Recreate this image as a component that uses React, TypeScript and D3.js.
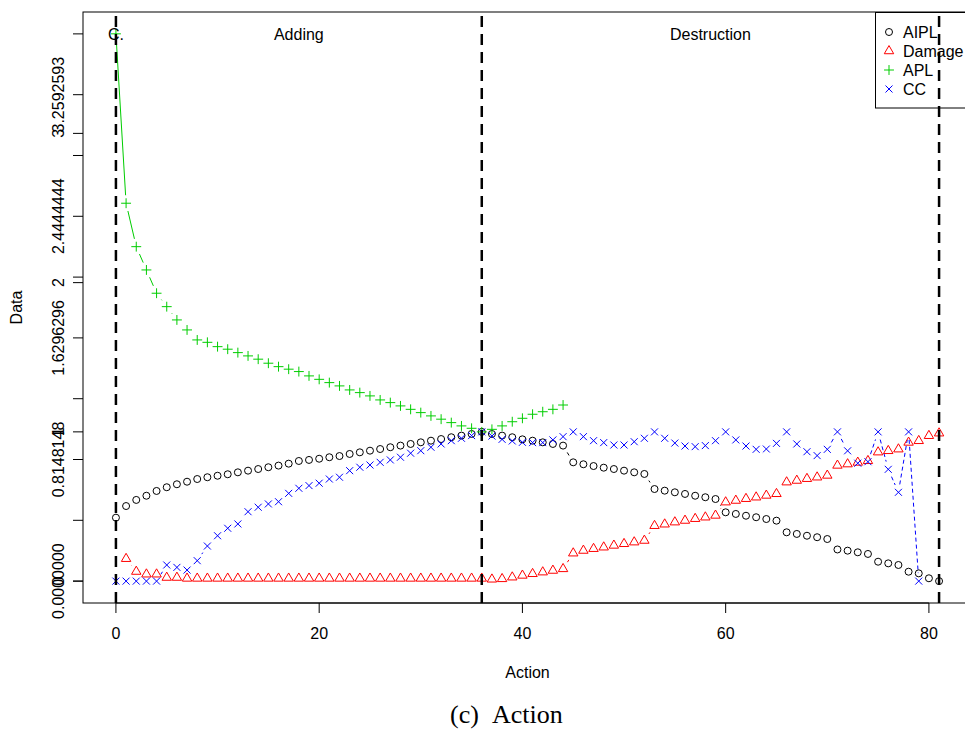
import React from 'react';
import * as d3 from 'd3';

const W = 965;
const H = 729;

// Series values (index = Action step)
const aipl = [
  0.425, 0.503, 0.544, 0.572, 0.604, 0.629, 0.649, 0.666, 0.684, 0.696,
  0.706, 0.716, 0.729, 0.740, 0.751, 0.763, 0.774, 0.787, 0.805, 0.812,
  0.820, 0.830, 0.838, 0.852, 0.863, 0.874, 0.885, 0.897, 0.908, 0.919,
  0.930, 0.941, 0.952, 0.964, 0.975, 0.986, 1.000, 0.986, 0.975, 0.964,
  0.950, 0.941, 0.930, 0.919, 0.908, 0.796, 0.783, 0.771, 0.760, 0.751,
  0.740, 0.729, 0.718, 0.617, 0.606, 0.595, 0.584, 0.572, 0.562, 0.550,
  0.461, 0.450, 0.438, 0.428, 0.416, 0.405, 0.327, 0.316, 0.304, 0.294,
  0.282, 0.212, 0.204, 0.193, 0.182, 0.130, 0.119, 0.108, 0.063, 0.052,
  0.019, 0.000,
];
const aiplStart = 0;

const damage = [
  0.150, 0.064, 0.046, 0.046, 0.024, 0.024, 0.018, 0.018, 0.018,
  0.018, 0.018, 0.018, 0.018, 0.018, 0.018, 0.018, 0.018, 0.018, 0.018,
  0.018, 0.018, 0.018, 0.018, 0.018, 0.018, 0.018, 0.018, 0.018, 0.018,
  0.018, 0.018, 0.018, 0.018, 0.018, 0.018, 0.018, 0.012, 0.015, 0.026,
  0.038, 0.049, 0.060, 0.071, 0.082, 0.187, 0.205, 0.217, 0.227, 0.239,
  0.250, 0.261, 0.272, 0.371, 0.381, 0.395, 0.406, 0.418, 0.428, 0.440,
  0.529, 0.540, 0.552, 0.562, 0.574, 0.585, 0.663, 0.674, 0.686, 0.696,
  0.708, 0.775, 0.784, 0.795, 0.806, 0.864, 0.873, 0.884, 0.929, 0.940,
  0.974, 0.991,
];
const damageStart = 1;

const apl = [
  3.667, 2.532, 2.241, 2.085, 1.929, 1.839, 1.750, 1.683, 1.616, 1.600,
  1.571, 1.554, 1.531, 1.509, 1.487, 1.460, 1.437, 1.420, 1.404, 1.375,
  1.352, 1.330, 1.308, 1.281, 1.263, 1.241, 1.214, 1.196, 1.174, 1.151,
  1.129, 1.107, 1.085, 1.062, 1.040, 1.024, 1.000, 1.017, 1.040, 1.068,
  1.091, 1.118, 1.135, 1.151, 1.180,
];
const aplStart = 0;

const cc = [
  0.000, 0.000, 0.000, 0.000, 0.000, 0.108, 0.092, 0.074, 0.137, 0.235,
  0.304, 0.354, 0.383, 0.465, 0.495, 0.517, 0.532, 0.588, 0.622, 0.640,
  0.656, 0.684, 0.696, 0.740, 0.763, 0.778, 0.796, 0.812, 0.830, 0.857,
  0.874, 0.897, 0.919, 0.941, 0.957, 0.975, 1.000, 0.972, 0.950, 0.939,
  0.930, 0.928, 0.928, 0.946, 0.968, 1.000, 0.968, 0.941, 0.928, 0.912,
  0.912, 0.934, 0.957, 1.000, 0.957, 0.925, 0.905, 0.901, 0.908, 0.941,
  1.000, 0.946, 0.905, 0.883, 0.885, 0.923, 1.000, 0.919, 0.867, 0.841,
  0.883, 1.000, 0.873, 0.790, 0.800, 1.000, 0.749, 0.595, 1.000, 0.000,
];
const ccStart = 0;

const xTicks = [0, 20, 40, 60, 80];
const yPrettyTicks = [0, 1, 2, 3];
const yStepTicks = [0, 0.4074074, 0.8148148, 1.2222222, 1.6296296, 2.037037, 2.4444444, 2.8518519, 3.2592593, 3.6666667];
const yStepLabels = ['0.0000000', '', '0.8148148', '', '1.6296296', '', '2.4444444', '', '3.2592593', ''];

const phaseBreaks = [0, 36, 81];
const phaseNames = ['C.', 'Adding', 'Destruction'];
const phaseLabelX = [0, 18, 58.5];
const phaseLabelY = 3.6667;

const legendNames = ['AIPL', 'Damage', 'APL', 'CC'];

const COLORS = ['#000000', '#FF0000', '#00CD00', '#0000FF'];
const FONT = 'Liberation Sans, Arial, Helvetica, sans-serif';

const x = d3.scaleLinear().domain([-3.24, 84.24]).range([83, 972]);
const y = d3.scaleLinear().domain([-0.14667, 3.81333]).range([603, 12]);

const R = 3.5;

function Symbol({ kind, cx, cy, color }: { kind: number; cx: number; cy: number; color: string }) {
  if (kind === 0) {
    return <circle cx={cx} cy={cy} r={R} fill="none" stroke={color} strokeWidth={1} />;
  }
  if (kind === 1) {
    const r = 1.5551 * R;
    const xc = 1.3468 * R;
    const yc = 0.7776 * R;
    return (
      <polygon
        points={`${cx},${cy - r} ${cx + xc},${cy + yc} ${cx - xc},${cy + yc}`}
        fill="none"
        stroke={color}
        strokeWidth={1}
      />
    );
  }
  if (kind === 2) {
    const a = Math.SQRT2 * R;
    return (
      <path d={`M${cx - a},${cy}H${cx + a}M${cx},${cy - a}V${cy + a}`} stroke={color} strokeWidth={1} fill="none" />
    );
  }
  const a = R;
  return (
    <path
      d={`M${cx - a},${cy - a}L${cx + a},${cy + a}M${cx - a},${cy + a}L${cx + a},${cy - a}`}
      stroke={color}
      strokeWidth={1}
      fill="none"
    />
  );
}

function gapSegments(vals: number[], start: number, gap: number) {
  const pts = vals.map((v, i) => [x(i + start), y(v)]);
  const out: string[] = [];
  for (let i = 0; i < pts.length - 1; i++) {
    const [x0, y0] = pts[i];
    const [x1, y1] = pts[i + 1];
    const dx = x1 - x0;
    const dy = y1 - y0;
    const len = Math.hypot(dx, dy);
    if (len <= 2 * gap) continue;
    const ux = dx / len;
    const uy = dy / len;
    out.push(`M${x0 + ux * gap},${y0 + uy * gap}L${x1 - ux * gap},${y1 - uy * gap}`);
  }
  return out.join('');
}

export default function App() {
  const series = [
    { vals: aipl, start: aiplStart, dash: undefined as string | undefined },
    { vals: damage, start: damageStart, dash: undefined as string | undefined },
    { vals: apl, start: aplStart, dash: undefined as string | undefined },
    { vals: cc, start: ccStart, dash: '4,3' },
  ];
  const legendRowY = [32, 51, 70, 89];

  return (
    <svg
      width={W}
      height={H}
      style={{ position: 'absolute', left: 0, top: 0, background: '#fff' }}
      fontFamily={FONT}
    >
      <rect x={0} y={0} width={W} height={H} fill="#fff" />

      {/* series lines (type = "b") */}
      {series.map((s, k) => (
        <path
          key={`l${k}`}
          d={gapSegments(s.vals, s.start, 8)}
          stroke={COLORS[k]}
          strokeWidth={1}
          fill="none"
          strokeDasharray={s.dash}
        />
      ))}
      {/* series points */}
      {series.map((s, k) => (
        <g key={`p${k}`}>
          {s.vals.map((v, i) => (
            <Symbol key={i} kind={k} cx={x(i + s.start)} cy={y(v)} color={COLORS[k]} />
          ))}
        </g>
      ))}

      {/* phase labels */}
      {phaseNames.map((t, i) => (
        <text
          key={t}
          x={x(phaseLabelX[i])}
          y={y(phaseLabelY) + 5.8}
          textAnchor="middle"
          fontSize={16}
          fill="#000"
        >
          {t}
        </text>
      ))}

      {/* legend */}
      <rect x={875.5} y={12.5} width={110} height={95.5} fill="#fff" stroke="#000" strokeWidth={1} />
      {legendNames.map((n, k) => (
        <g key={n}>
          <Symbol kind={k} cx={889} cy={legendRowY[k]} color={COLORS[k]} />
          <text x={903} y={legendRowY[k] + 5.8} fontSize={16} fill="#000">
            {n}
          </text>
        </g>
      ))}

      {/* phase break lines */}
      {phaseBreaks.map((b) => (
        <line
          key={b}
          x1={x(b)}
          x2={x(b)}
          y1={603}
          y2={12}
          stroke="#000"
          strokeWidth={2.5}
          strokeDasharray="11,7"
        />
      ))}

      {/* plot box */}
      <rect x={83} y={12} width={889} height={591} fill="none" stroke="#000" strokeWidth={1} />

      {/* x axis */}
      <line x1={x(xTicks[0])} x2={x(xTicks[xTicks.length - 1])} y1={603} y2={603} stroke="#000" />
      {xTicks.map((t) => (
        <g key={t}>
          <line x1={x(t)} x2={x(t)} y1={603} y2={613} stroke="#000" />
          <text x={x(t)} y={638.5} textAnchor="middle" fontSize={16} fill="#000">
            {t}
          </text>
        </g>
      ))}

      {/* y axis: step ticks */}
      {yStepTicks.map((t, i) => (
        <g key={`s${i}`}>
          <line x1={73} x2={83} y1={y(t)} y2={y(t)} stroke="#000" />
          {yStepLabels[i] && (
            <text
              transform={`translate(64,${y(t)}) rotate(-90)`}
              textAnchor="middle"
              fontSize={16}
              fill="#000"
            >
              {yStepLabels[i]}
            </text>
          )}
        </g>
      ))}
      {/* y axis: pretty ticks */}
      {yPrettyTicks.map((t) => (
        <g key={`p${t}`}>
          <line x1={73} x2={83} y1={y(t)} y2={y(t)} stroke="#000" />
          <text
            transform={`translate(64,${y(t)}) rotate(-90)`}
            textAnchor="middle"
            fontSize={16}
            fill="#000"
          >
            {String(t)}
          </text>
        </g>
      ))}

      {/* axis titles */}
      <text x={527.5} y={677.5} textAnchor="middle" fontSize={16} fill="#000">
        Action
      </text>
      <text transform="translate(22,307.5) rotate(-90)" textAnchor="middle" fontSize={16} fill="#000">
        Data
      </text>

      {/* caption */}
      <g fontSize={26} fill="#000" fontFamily="Liberation Serif, DejaVu Serif, serif">
        <text x={450} y={723}>(c)</text>
        <text x={492} y={723}>Action</text>
      </g>
    </svg>
  );
}
